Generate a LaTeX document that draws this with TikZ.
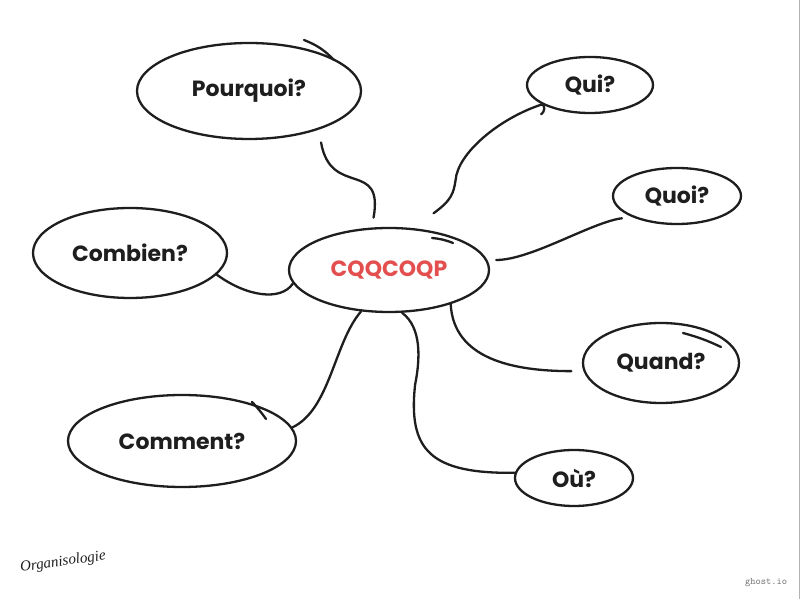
\documentclass[tikz,border=0pt]{standalone}
\usepackage{fontspec}
\setmainfont{Poppins}
\newfontfamily\handfont{Liberation Serif}
\usepackage{tikz}
\usetikzlibrary{shapes.geometric,calc,positioning}
\definecolor{ink}{HTML}{1E1E1E}
\definecolor{idea}{HTML}{E34F4F}

\begin{document}
\begin{tikzpicture}[x=1pt,y=1pt]
	\tikzstyle{every node} = [ellipse, draw = ink, line width = 2.3pt, inner sep = 0pt, text = ink, font = \fontsize{22}{26}\selectfont\bfseries]
	\tikzstyle{link} = [draw = ink, line width = 2.3pt, line cap = round]

\useasboundingbox[fill = white] (0, 0) rectangle (800, 599);

\node[minimum width = 200pt, minimum height = 84pt] (cqq) at (389, 329) {\color{idea}CQQCOQP};
\node[minimum width = 224pt, minimum height = 96pt] (pourquoi) at (249, 508) {Pourquoi?};
\node[minimum width = 126pt, minimum height = 56pt] (qui) at (590, 514) {Qui?};
\node[minimum width = 128pt, minimum height = 56pt] (quoi) at (677, 403) {Quoi?};
\node[minimum width = 194pt, minimum height = 90pt] (combien) at (130, 346) {Combien?};
\node[minimum width = 156pt, minimum height = 80pt] (quand) at (661, 236) {Quand?};
\node[minimum width = 228pt, minimum height = 92pt] (comment) at (182, 158) {Comment?};
\node[minimum width = 118pt, minimum height = 56pt] (ou) at (574, 121) {Où?};

	% branches
	\path[link, shorten <= 10pt, shorten >= 13pt] (cqq.112) to[out = 80, in = -80, looseness = 1.6] (pourquoi.-29);
	\path[link] (cqq.41) ++(0, 18) .. controls +(18, 13) and +(-2, -13) .. ++(22, 33)
		.. controls +(2, 27) and +(-43, -14) .. (qui.202) to[out = -20, in = 30] ++(-1, -10);
	\path[link, shorten >= 10pt] (cqq.east) ++(6, 10) .. controls +(35, 0) and +(-40, -5) .. (quoi.205);
	\path[link] (combien.-14) .. controls +(30, -22) and +(-12, -18) .. (cqq.188);
	\path[link, shorten >= 12pt] (cqq.-29) .. controls +(3, -55) and +(-70, 0) .. (quand.186);
	\path[link] (cqq.236) .. controls +(-27, -31) and +(38, 18) .. (comment.7);
	\path[link] (cqq.-73) .. controls +(20, -15) and +(5, 25) .. ++(13, -72)
		.. controls +(-7, -65) and +(-85, -1) .. (ou.175);

	% double strokes
	\path[link] (pourquoi.center) ++(55, 51) to[bend left = 12] ++(30, -20);
	\path[link] (cqq.center) ++(43, 32) to[bend left = 8] ++(21, -5);
	\path[link] (quand.center) ++(22, 30) to[bend left = 5] ++(38, -14);
	\path[link] (comment.center) ++(70, 39) to[bend left = 4] ++(14, -17);

	\node[draw = none, rotate = 8, font = \handfont\itshape\fontsize{15}{18}\selectfont] (sign) at (63, 37) {Organisologie};
	\node[draw = none, text = black!55, font = \ttfamily\fontsize{10}{12}\selectfont] (site) at (766, 16) {ghost.io};
	\path[draw = black!30, line width = 1pt] (799.5, 0) -- (799.5, 599);
\end{tikzpicture}
\end{document}
